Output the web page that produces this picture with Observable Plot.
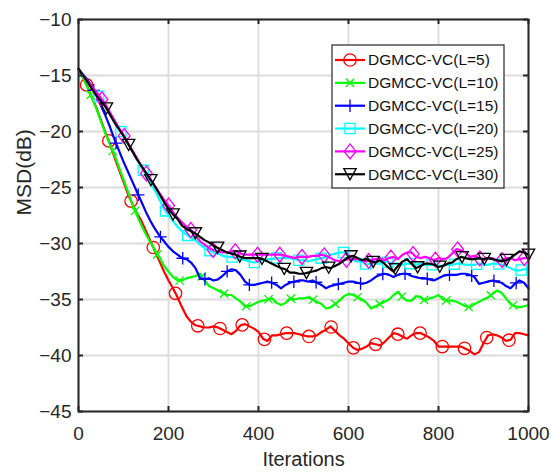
<!DOCTYPE html>
<html><head><meta charset="utf-8">
<script src="https://cdn.jsdelivr.net/npm/d3@7"></script>
<script src="https://cdn.jsdelivr.net/npm/@observablehq/plot@0.6"></script>
<style>
html,body{margin:0;padding:0;background:#fff;}
#chart svg{display:block;}
</style></head><body><div id="chart"></div>
<script>
// ---- data ----
const iterations = d3.range(0, 1001, 10);
const msdL5 = [
-14.4,-15.2,-16.0,-17.0,-17.9,-19.0,-20.1,-21.1,-22.3,-23.4,
-24.5,-25.6,-26.5,-27.3,-28.0,-28.9,-29.8,-30.7,-31.6,-32.5,
-33.3,-34.0,-34.8,-35.7,-36.5,-37.0,-37.3,-37.4,-37.5,-37.5,
-37.4,-37.5,-37.7,-37.9,-38.1,-37.8,-37.3,-37.2,-37.4,-37.6,
-37.9,-38.5,-38.7,-38.2,-38.2,-38.1,-38.0,-38.0,-38.0,-38.1,
-38.2,-38.3,-38.3,-38.2,-37.9,-37.7,-37.4,-37.8,-38.2,-38.5,
-38.9,-39.3,-39.5,-39.4,-39.2,-38.9,-39.0,-39.1,-38.8,-38.4,
-38.0,-38.1,-38.3,-38.5,-38.2,-38.0,-38.0,-38.2,-38.4,-38.7,
-39.2,-39.2,-39.2,-39.2,-39.2,-39.2,-39.4,-39.6,-39.9,-39.7,
-38.9,-38.2,-38.1,-38.2,-38.4,-38.7,-38.6,-38.0,-38.0,-38.1,
-38.2];
const msdL10 = [
-14.4,-15.2,-16.1,-17.0,-18.0,-19.1,-20.2,-21.1,-22.1,-23.2,
-24.3,-25.4,-26.5,-27.5,-28.4,-29.2,-29.9,-30.6,-31.3,-32.0,
-32.5,-33.0,-33.3,-33.3,-33.1,-33.0,-32.9,-32.7,-33.3,-33.8,
-34.0,-34.2,-34.4,-34.6,-34.6,-34.9,-35.2,-35.6,-35.6,-35.4,
-35.2,-35.1,-35.0,-34.9,-35.3,-35.5,-35.3,-34.9,-35.0,-34.9,
-34.9,-34.8,-35.0,-35.2,-35.4,-35.8,-35.7,-35.4,-35.1,-34.7,
-34.5,-34.6,-34.8,-35.0,-35.3,-35.8,-35.6,-35.4,-35.2,-35.0,
-34.6,-34.3,-34.8,-35.1,-35.1,-34.7,-34.8,-35.1,-34.9,-34.8,
-34.6,-35.0,-35.1,-35.1,-35.2,-35.4,-35.6,-35.7,-35.4,-35.2,
-35.0,-34.8,-34.5,-34.2,-34.4,-34.9,-35.4,-35.6,-35.7,-35.6,
-35.5];
const msdL15 = [
-14.4,-14.9,-15.4,-16.0,-16.8,-17.7,-18.6,-19.6,-20.7,-21.7,
-22.7,-23.6,-24.5,-25.4,-26.3,-27.2,-28.0,-28.7,-29.3,-29.8,
-30.3,-30.7,-31.0,-31.3,-31.4,-31.7,-32.2,-33.1,-33.2,-33.1,
-33.3,-33.2,-32.9,-32.5,-32.3,-32.4,-32.8,-33.4,-33.7,-33.7,
-33.6,-33.5,-33.4,-33.5,-33.7,-34.0,-33.7,-33.5,-33.4,-33.3,
-33.3,-33.4,-33.3,-33.5,-33.7,-34.0,-33.8,-33.7,-33.6,-33.5,
-33.4,-33.4,-33.5,-33.6,-33.5,-33.3,-33.0,-32.8,-32.7,-32.8,
-33.0,-32.8,-32.7,-32.7,-32.9,-33.0,-33.1,-33.1,-33.2,-33.3,
-33.1,-32.9,-32.8,-32.8,-32.8,-32.7,-32.7,-32.8,-33.0,-33.6,
-33.5,-33.4,-33.3,-33.4,-33.5,-33.8,-34.0,-33.6,-33.3,-33.5,
-34.0];
const msdL20 = [
-14.4,-15.0,-15.6,-16.1,-16.6,-17.1,-17.7,-18.4,-19.1,-19.7,
-20.4,-21.1,-21.8,-22.5,-23.2,-23.9,-24.6,-25.3,-26.1,-26.9,
-27.5,-28.0,-28.5,-28.9,-29.2,-29.5,-29.7,-30.1,-30.4,-30.6,
-30.8,-30.9,-31.1,-31.2,-31.2,-31.3,-31.4,-31.5,-31.6,-31.7,
-31.6,-31.5,-31.4,-31.4,-31.3,-31.3,-31.3,-31.3,-31.4,-31.5,
-31.5,-31.6,-31.5,-31.4,-31.3,-31.2,-31.0,-30.9,-30.8,-30.8,
-31.2,-31.5,-31.6,-31.6,-31.9,-31.8,-31.8,-31.8,-31.6,-31.7,
-31.8,-31.8,-31.9,-31.8,-31.8,-31.9,-31.8,-31.9,-31.9,-31.9,
-32.0,-32.0,-31.9,-31.9,-31.8,-31.8,-31.9,-31.9,-31.9,-31.8,
-31.9,-31.9,-31.8,-31.8,-31.9,-32.0,-32.2,-32.4,-32.4,-32.3,
-32.3];
const msdL25 = [
-14.4,-15.0,-15.5,-16.0,-16.5,-17.0,-17.6,-18.3,-19.0,-19.7,
-20.3,-21.0,-21.7,-22.4,-23.1,-23.7,-24.3,-24.9,-25.5,-26.1,
-26.6,-27.2,-27.7,-28.1,-28.5,-28.8,-29.3,-29.8,-30.1,-30.4,
-30.6,-30.7,-30.8,-30.8,-30.7,-30.7,-30.9,-31.0,-31.0,-31.0,
-31.0,-31.0,-31.0,-31.0,-31.0,-31.0,-31.1,-31.2,-31.3,-31.2,
-31.2,-31.2,-31.1,-31.1,-31.0,-31.1,-31.3,-31.5,-31.6,-31.5,
-31.4,-31.4,-31.4,-31.5,-31.6,-31.5,-31.4,-31.3,-31.5,-31.3,
-31.2,-31.4,-31.0,-30.8,-30.8,-31.2,-31.3,-31.2,-31.3,-31.5,
-31.3,-31.4,-31.3,-30.9,-30.5,-30.6,-30.8,-31.2,-31.1,-31.3,
-31.5,-31.3,-31.3,-31.6,-31.5,-31.3,-31.3,-31.5,-31.4,-31.3,
-31.3];
const msdL30 = [
-14.4,-15.0,-15.6,-16.2,-16.8,-17.3,-17.8,-18.5,-19.2,-19.8,
-20.4,-21.1,-21.8,-22.5,-23.1,-23.7,-24.3,-24.9,-25.6,-26.3,
-26.9,-27.4,-27.8,-28.4,-28.7,-28.9,-29.1,-29.4,-29.7,-29.9,
-30.2,-30.4,-30.6,-30.8,-30.9,-31.0,-31.2,-31.3,-31.3,-31.3,
-31.3,-31.4,-31.6,-31.8,-32.0,-32.2,-32.3,-32.6,-32.6,-32.7,
-32.7,-32.6,-32.5,-32.4,-32.2,-32.1,-32.2,-32.0,-31.8,-31.5,
-31.2,-31.1,-31.3,-31.5,-31.4,-31.6,-31.7,-31.5,-31.8,-32.2,
-32.5,-32.0,-31.6,-31.4,-31.8,-32.2,-32.0,-31.8,-31.8,-31.9,
-32.1,-32.0,-31.8,-31.7,-31.4,-31.2,-31.3,-31.4,-31.4,-31.3,
-31.4,-31.3,-31.4,-31.5,-31.6,-31.5,-31.3,-31.0,-30.7,-30.8,
-31.0];
const seriesLabels = ["DGMCC-VC(L=5)","DGMCC-VC(L=10)","DGMCC-VC(L=15)","DGMCC-VC(L=20)","DGMCC-VC(L=25)","DGMCC-VC(L=30)"];
const markerFirst = [18, 27, 34, 45, 52, 62];   // iteration of first marker of each curve
const markerStep = 49.4;                       // iterations between markers
const xTicks = [0, 200, 400, 600, 800, 1000];
const yTicks = [-45, -40, -35, -30, -25, -20, -15, -10];

// ---- styles ----
const colors = ["#ff0000", "#00ff00", "#0000ff", "#00ffff", "#ff00ff", "#000000"];
function sym(fn) { return {draw(c, size) { fn(c, Math.sqrt(size / Math.PI)); }}; }
const symbols = [
  sym((c, r) => { c.moveTo(r, 0); c.arc(0, 0, r, 0, 2 * Math.PI); }),
  sym((c, r) => { const s = r * 0.75; c.moveTo(-s, -s); c.lineTo(s, s); c.moveTo(-s, s); c.lineTo(s, -s); }),
  sym((c, r) => { c.moveTo(-r, 0); c.lineTo(r, 0); c.moveTo(0, -r); c.lineTo(0, r); }),
  sym((c, r) => { const s = r * 0.82; c.rect(-s, -s, 2 * s, 2 * s); }),
  sym((c, r) => { const w = r * 0.95, h = r * 1.2; c.moveTo(0, -h); c.lineTo(w, 0); c.lineTo(0, h); c.lineTo(-w, 0); c.closePath(); }),
  sym((c, r) => { const w = r, h = r * 0.9; c.moveTo(-w, -h); c.lineTo(w, -h); c.lineTo(0, h); c.closePath(); })
];
const series = [msdL5, msdL10, msdL15, msdL20, msdL25, msdL30];

const lineData = series.map(vals => iterations.map((it, i) => ({it, v: vals[i]})));
function valueAt(vals, x) {
  const i = Math.min(Math.floor(x / 10), vals.length - 2);
  const t = (x - iterations[i]) / (iterations[i + 1] - iterations[i]);
  return vals[i] + t * (vals[i + 1] - vals[i]);
}
const markerData = series.map((vals, s) => {
  const out = [];
  for (let k = 0; markerFirst[s] + k * markerStep <= 1000.9; k++) {
    const x = Math.min(1000, markerFirst[s] + k * markerStep);
    out.push({it: x, v: valueAt(vals, x)});
  }
  return out;
});

const W = 551, H = 475, ML = 78, MR = 23, MT = 19, MB = 64;
const FW = W - ML - MR, FH = H - MT - MB;
const tickLen = 5;
const ink = "#262626";

const marks = [
  Plot.gridX(xTicks, {stroke: "#dcdcdc", strokeOpacity: 1, strokeWidth: 1.8}),
  Plot.gridY(yTicks, {stroke: "#dcdcdc", strokeOpacity: 1, strokeWidth: 1.8})
];
series.forEach((_, s) => {
  marks.push(Plot.line(lineData[s], {x: "it", y: "v", stroke: colors[s], strokeWidth: 2.2}));
  marks.push(Plot.dot(markerData[s], {x: "it", y: "v", symbol: symbols[s], r: s === 1 ? 5.5 : 6.2, stroke: colors[s], fill: "none", strokeWidth: 1.3}));
});
marks.push(
  Plot.frame({stroke: ink, strokeWidth: 2}),
  Plot.ruleX(xTicks, {stroke: ink, strokeWidth: 2, insetTop: FH - tickLen}),
  Plot.ruleX(xTicks, {stroke: ink, strokeWidth: 2, insetBottom: FH - tickLen}),
  Plot.ruleY(yTicks, {stroke: ink, strokeWidth: 2, insetRight: FW - tickLen}),
  Plot.ruleY(yTicks, {stroke: ink, strokeWidth: 2, insetLeft: FW - tickLen}),
  Plot.axisX(xTicks, {tickSize: 0, tickPadding: 15, fontSize: 19, label: null, fill: ink, tickFormat: d3.format("d")}),
  Plot.axisY(yTicks, {tickSize: 0, tickPadding: 7, fontSize: 19, label: null, fill: ink}),
  Plot.text(["Iterations"], {frameAnchor: "bottom", dy: 54, fontSize: 20, fill: ink}),
  Plot.text(["MSD(dB)"], {frameAnchor: "left", dx: -54, rotate: -90, fontSize: 21, fill: ink})
);

const plot = Plot.plot({
  width: W, height: H,
  marginLeft: ML, marginRight: MR, marginTop: MT, marginBottom: MB,
  style: {fontFamily: "'Liberation Sans', Arial, sans-serif", background: "white", color: ink, overflow: "visible"},
  x: {domain: [0, 1000]},
  y: {domain: [-45, -10]},
  marks
});

// ---- legend (inside plot, top right) ----
const svg = d3.select(plot);
const lg = svg.append("g").attr("text-anchor", "start");
const box = {x: 332, y: 45, w: 172, h: 143};
lg.append("rect").attr("x", box.x).attr("y", box.y).attr("width", box.w).attr("height", box.h)
  .attr("fill", "white").attr("stroke", ink).attr("stroke-width", 1.2);
seriesLabels.forEach((lab, s) => {
  const y = 60 + s * 22.85;
  lg.append("line").attr("x1", 335).attr("x2", 365).attr("y1", y).attr("y2", y)
    .attr("stroke", colors[s]).attr("stroke-width", 2.2);
  const r = s === 1 ? 5.5 : 6.2;
  lg.append("path").attr("transform", `translate(350,${y})`)
    .attr("d", d3.symbol().type(symbols[s]).size(Math.PI * r * r)())
    .attr("fill", "none").attr("stroke", colors[s]).attr("stroke-width", 1.3);
  lg.append("text").attr("x", 368).attr("y", y).attr("dy", "0.35em")
    .attr("text-anchor", "start")
    .attr("font-size", 15.5).attr("fill", "#111").text(lab);
});

document.getElementById("chart").appendChild(plot);
</script>
</body></html>
